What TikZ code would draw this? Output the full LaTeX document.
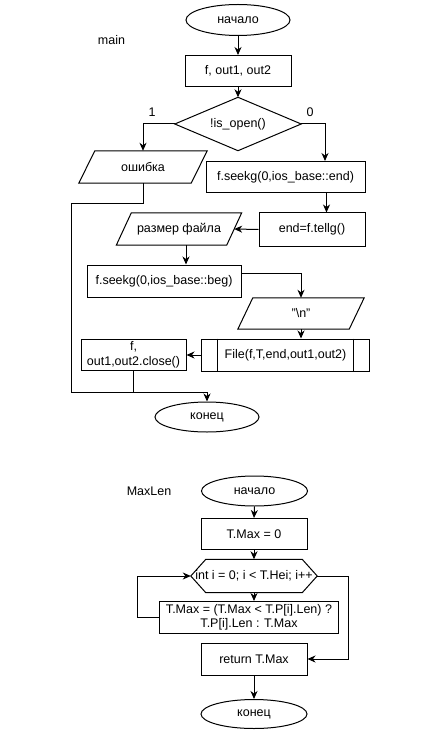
\documentclass[tikz,border=0pt]{standalone}
\usepackage{fontspec}
\setmainfont{Liberation Sans}
\usetikzlibrary{arrows.meta,shapes.geometric,calc}
\begin{document}
\begin{tikzpicture}[x=1pt,y=-1pt,
  font=\fontsize{12.5}{14.5}\selectfont,
  line/.style={draw=black, line width=1pt},
  arr/.style={line, -{Stealth[length=8pt,width=7pt,inset=2.5pt]}},
  box/.style={line, shape=rectangle, inner sep=1pt, align=center, fill=white},
  term/.style={line, shape=ellipse, inner sep=0pt, minimum width=105, minimum height=30},
  plain/.style={shape=rectangle, inner sep=0pt, align=center},
  lbl/.style={inner sep=0pt}]
\useasboundingbox (0,0) rectangle (445,751);

% ---------- main ----------
\node[lbl] (mainlbl) at (111.5,40) {main};
\node[term, minimum width=104, minimum height=31] (start1) at (238,20) {начало};
\node[box, minimum width=106, minimum height=31] (vars) at (238,71) {f, out1, out2};
\node[plain, minimum width=126, minimum height=53] (cond) at (238,124) {!is\_open()};
\draw[line] (cond.north) -- (cond.east) -- (cond.south) -- (cond.west) -- cycle;
\node[lbl] (one) at (152,112) {1};
\node[lbl] (zero) at (310,112) {0};

\node[plain, minimum width=112, minimum height=32] (err) at (143,167) {ошибка};
\draw[line] ([xshift=8]err.north west) -- ([xshift=8]err.north east) -- ([xshift=-8]err.south east) -- ([xshift=-8]err.south west) -- cycle;

\node[box, minimum width=159, minimum height=31] (seekend) at (285.5,177) {f.seekg(0,ios\_base::end)};
\node[box, minimum width=106, minimum height=33] (tell) at (312,229.5) {end=f.tellg()};

\node[plain, minimum width=110, minimum height=32] (size) at (179,229) {размер файла};
\draw[line] ([xshift=7.5]size.north west) -- ([xshift=7.5]size.north east) -- ([xshift=-7.5]size.south east) -- ([xshift=-7.5]size.south west) -- cycle;

\node[box, minimum width=154, minimum height=32] (seekbeg) at (164,281) {f.seekg(0,ios\_base::beg)};

\node[plain, minimum width=111, minimum height=31] (nl) at (301,313.5) {\char34\textbackslash n\char34};
\draw[line] ([xshift=7.5]nl.north west) -- ([xshift=7.5]nl.north east) -- ([xshift=-7.5]nl.south east) -- ([xshift=-7.5]nl.south west) -- cycle;

\node[box, minimum width=168, minimum height=32] (file) at (285.5,355) {File(f,T,end,out1,out2)};
\draw[line] ([xshift=16.5]file.north west) -- ([xshift=16.5]file.south west);
\draw[line] ([xshift=-16.5]file.north east) -- ([xshift=-16.5]file.south east);

\node[box, minimum width=105, minimum height=31] (close) at (133.5,355) {f,\\out1,out2.close()};
\node[term, minimum width=104, minimum height=30] (end1) at (207,417) {конец};

\coordinate (j) at (207,392);
\coordinate (e1) at (71,203.3);
\coordinate (e2) at (71,392);

\draw[arr] (start1.south) -- (vars.north);
\draw[arr] (vars.south) -- (cond.north);
\draw[arr] (cond.west) -| (err.north);
\draw[arr] (cond.east) -| ([xshift=39.5]seekend.north);
\draw[arr] ([xshift=41]seekend.south) -- ([xshift=41]seekend.south |- tell.north);
\draw[arr] (tell.west) -- (size.east);
\draw[arr] ([xshift=7]size.south) -- ([xshift=7]size.south |- seekbeg.north);
\draw[arr] ([yshift=8]seekbeg.east) -| (nl.north);
\draw[arr] (nl.south) -- (nl.south |- file.north);
\draw[arr] (file.west) -- (close.east);
\draw[line] (close.south) |- (j);
\draw[line] (err.south) |- (e1) -- (e2) -- (j);
\draw[arr] (j) -- (end1.north);

% ---------- MaxLen ----------
\node[lbl] (maxlbl) at (149,491) {MaxLen};
\node[term, minimum width=106, minimum height=30] (start2) at (254.5,491) {начало};
\node[box, minimum width=106, minimum height=31] (init) at (254,534) {T.Max = 0};
\node[plain, minimum width=126, minimum height=33] (loop) at (254,576) {int i = 0; i < T.Hei; i++};
\draw[line] (loop.west) -- ([xshift=15]loop.north west) -- ([xshift=-15]loop.north east) -- (loop.east) -- ([xshift=-15]loop.south east) -- ([xshift=15]loop.south west) -- cycle;
\node[box, minimum width=179, minimum height=32] (body) at (249,617.5) {T.Max = (T.Max < T.P[i].Len) ?\\T.P[i].Len : T.Max};
\node[box, minimum width=106, minimum height=32] (ret) at (254,659) {return T.Max};
\node[term, minimum width=106, minimum height=29] (end2) at (254,714) {конец};

\draw[arr] (start2.south) -- (init.north);
\draw[arr] (init.south) -- (loop.north);
\draw[arr] (loop.south) -- (loop.south |- body.north);
\draw[arr] (body.west) -- ++(-21.5,0) |- (loop.west);
\draw[arr] (loop.east) -- ++(31.5,0) |- (ret.east);
\draw[arr] (ret.south) -- (end2.north);
\end{tikzpicture}
\end{document}
